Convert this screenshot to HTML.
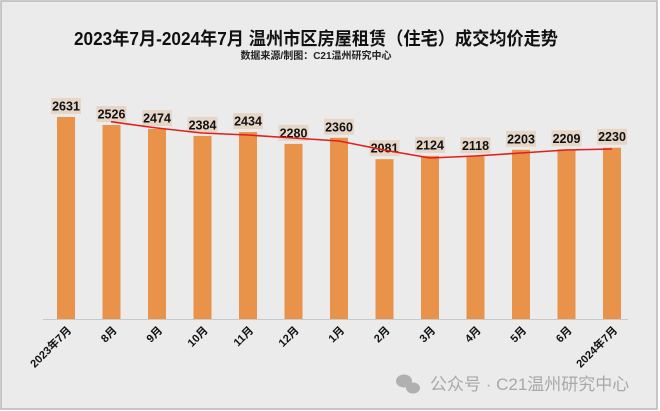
<!DOCTYPE html>
<html><head><meta charset="utf-8"><style>
body{margin:0;background:#fff}
svg{display:block}
text{font-family:"Liberation Sans","Noto Sans CJK SC",sans-serif}
</style></head><body>
<svg width="660" height="411" viewBox="0 0 660 411">
<rect x="1" y="1" width="656" height="408" fill="#ebebeb" stroke="#b8b8b8" stroke-width="1.5"/>
<text x="316" y="45" font-size="18" font-weight="bold" text-anchor="middle" fill="#111" textLength="484" lengthAdjust="spacingAndGlyphs">2023年7月-2024年7月 温州市区房屋租赁（住宅）成交均价走势</text>
<text x="316" y="59" font-size="10" font-weight="bold" text-anchor="middle" fill="#222">数据来源/制图：C21温州研究中心</text>
<line x1="43" y1="319.5" x2="628" y2="319.5" stroke="#c8c8c8" stroke-width="1"/>
<g id="bars"></g>
<g id="labels"></g>
<polyline id="trend" fill="none" stroke="#e0201c" stroke-width="1.6" points="111,121.7 157,128 202,133 248,135 293,138 339,141 384,150 430,158 475,156 521,153 566,150 612,149"/>
<g id="xl"></g>
<text x="430" y="390" font-size="17" fill="#a8a8a8">公众号 · C21温州研究中心</text>
<g fill="#b0b0b0"><ellipse cx="404" cy="381" rx="8" ry="6.5"/><ellipse cx="413" cy="388" rx="7" ry="5.5"/></g>
</svg>
<script>
(function(){
var v=[2631,2526,2474,2384,2434,2280,2360,2081,2124,2118,2203,2209,2230];
var m=["2023年7月","8月","9月","10月","11月","12月","1月","2月","3月","4月","5月","6月","2024年7月"];
var ns="http://www.w3.org/2000/svg",b=document.getElementById("bars"),l=document.getElementById("labels"),xl=document.getElementById("xl");
function el(t,a,p){var e=document.createElementNS(ns,t);for(var k in a)e.setAttribute(k,a[k]);p.appendChild(e);return e;}
for(var i=0;i<13;i++){var c=66+i*45.5,ty=319-v[i]*0.0768;
el("rect",{x:c-9,y:ty,width:18,height:319-ty,fill:"#e8924a"},b);
el("rect",{x:c-15,y:ty-19,width:30,height:16,fill:"#e6d6c8"},l);
var t=el("text",{x:c,y:ty-6.5,"font-size":"12.5","font-weight":"bold","text-anchor":"middle",fill:"#111"},l);t.textContent=v[i];
var x=el("text",{x:c+6,y:331,"font-size":"11","font-weight":"bold","text-anchor":"end",fill:"#111",transform:"rotate(-45 "+(c+6)+" 331)"},xl);x.textContent=m[i];}
})();
</script>
</body></html>
